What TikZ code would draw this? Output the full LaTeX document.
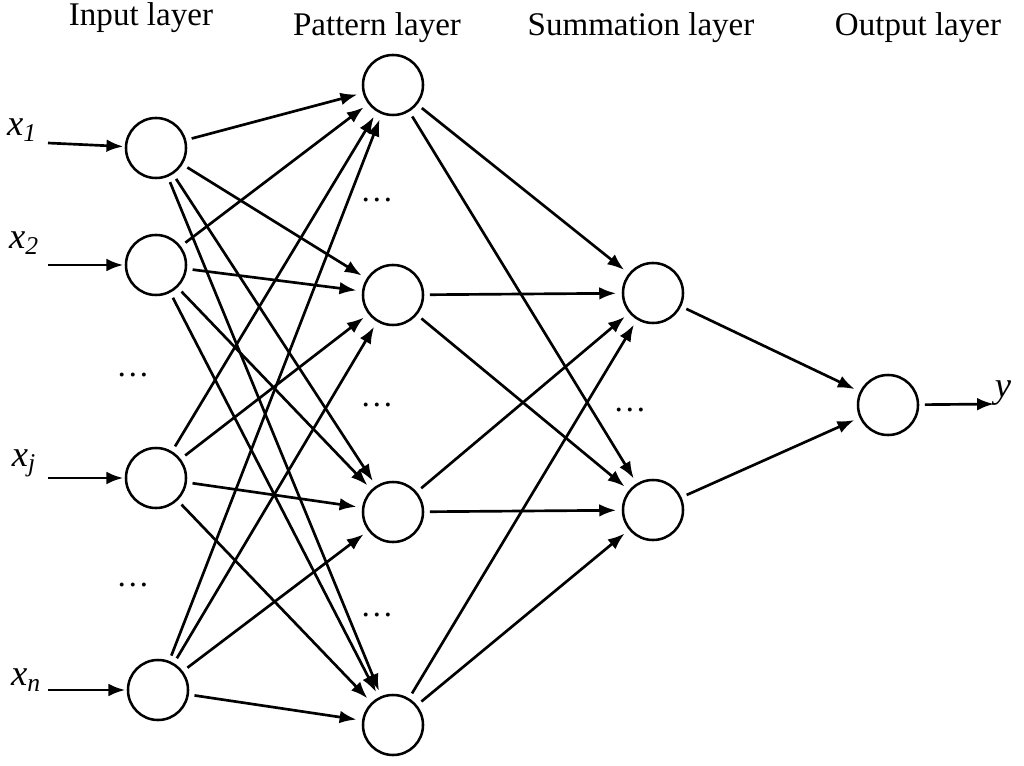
\documentclass[tikz,border=0pt]{standalone}
\usepackage{fontspec}
\setmainfont{Liberation Serif}
\usetikzlibrary{arrows.meta}
\begin{document}
\begin{tikzpicture}[x=0.025cm,y=-0.025cm,
  neuron/.style={circle,draw,line width=1.8pt,minimum size=1.5cm,inner sep=0pt},
  conn/.style={line width=1.9pt,-{Latex[length=12pt,width=9pt]},shorten >=4pt,shorten <=4pt},
  lbl/.style={font=\fontsize{23.5}{27}\selectfont},
  var/.style={font=\fontsize{26}{30}\selectfont\itshape}]
\useasboundingbox (0,0) rectangle (1024,766);
\node[neuron] (i1) at (156,148) {};
\node[neuron] (i2) at (156,265) {};
\node[neuron] (i3) at (156,478) {};
\node[neuron] (i4) at (158,690) {};
\node[neuron] (p1) at (393,85) {};
\node[neuron] (p2) at (393,295) {};
\node[neuron] (p3) at (393,512) {};
\node[neuron] (p4) at (393,725) {};
\node[neuron] (s1) at (653,293) {};
\node[neuron] (s2) at (653,510) {};
\node[neuron] (o) at (888,405) {};
\node[lbl] (t1) at (141,18) {Input layer};
\node[lbl] (t2) at (377,28) {Pattern layer};
\node[lbl] (t3) at (641,28) {Summation layer};
\node[lbl] (t4) at (918,28) {Output layer};
\node[var] (x1) at (22,130) {x\textsubscript{1}};
\node[var] (x2) at (24,243) {x\textsubscript{2}};
\node[var] (xj) at (24,463) {x\textsubscript{j}};
\node[var] (xn) at (26,680) {x\textsubscript{n}};
\node[var] (y) at (1003,393) {y};
\coordinate (a1) at (48,143);
\coordinate (a2) at (48,265);
\coordinate (a3) at (48,478);
\coordinate (a4) at (48,690);
\coordinate (ye) at (994,404);
\foreach \a/\b in {a1/i1,a2/i2,a3/i3,a4/i4}
  \draw[conn,shorten <=0pt,shorten >=1pt] (\a) -- (\b);
\draw[conn,shorten >=0pt] (o) -- (ye);
\foreach \d in {(133,375),(133,585),(377,200),(377,405),(377,615),(630,410)}
  \node[lbl] at \d {\dots};
\foreach \i in {i1,i2,i3,i4}
  \foreach \p in {p1,p2,p3,p4}
    \draw[conn] (\i) -- (\p);
\foreach \p in {p1,p2,p3,p4}
  \foreach \s in {s1,s2}
    \draw[conn] (\p) -- (\s);
\draw[conn] (s1) -- (o);
\draw[conn] (s2) -- (o);
\end{tikzpicture}
\end{document}
